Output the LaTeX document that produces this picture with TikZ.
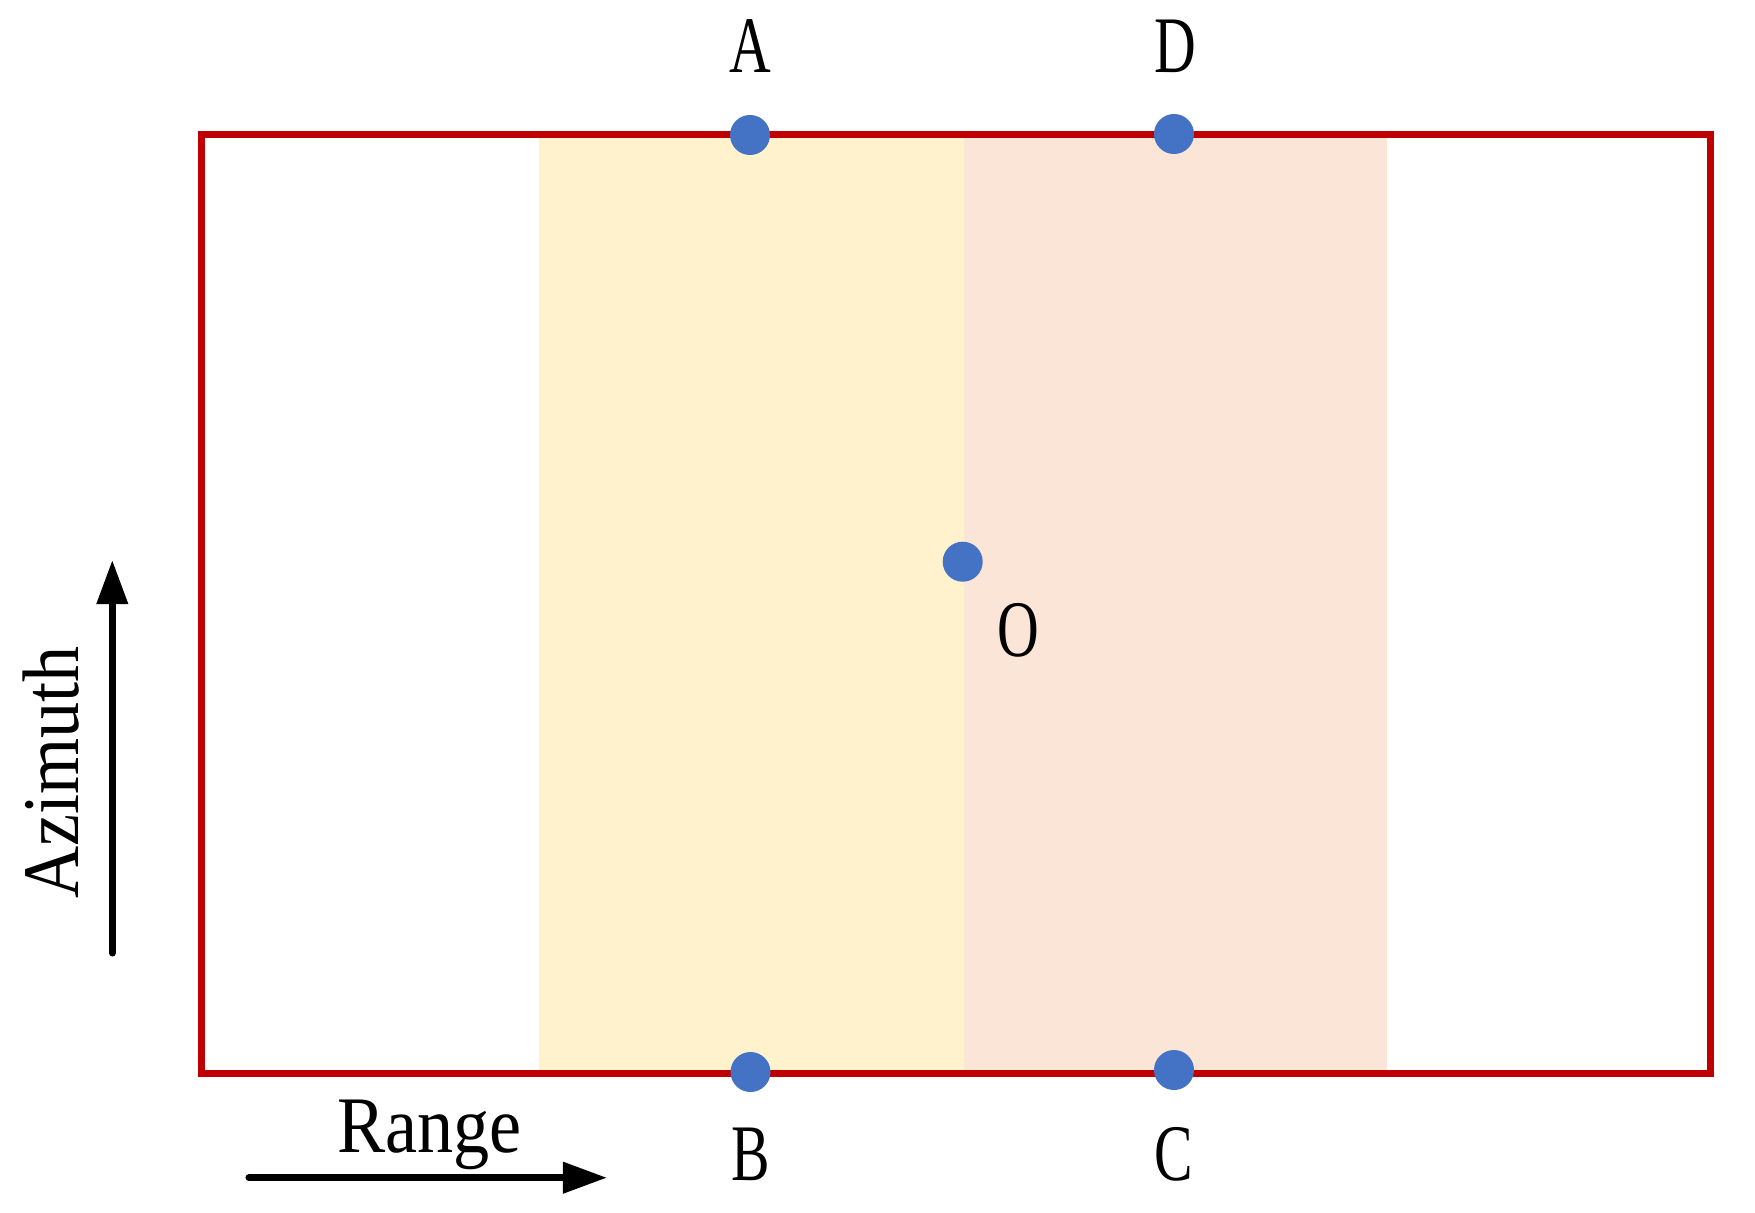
\documentclass[tikz,border=0pt]{standalone}
\usepackage{fontspec}
\setmainfont{Liberation Serif}
\newfontfamily\condL[FakeStretch=0.72]{Liberation Serif}
\newfontfamily\condW[FakeStretch=0.9]{Liberation Serif}
\usetikzlibrary{arrows.meta}
\definecolor{borderred}{HTML}{C00000}
\definecolor{dotblue}{HTML}{4472C4}
\definecolor{bandyellow}{HTML}{FFF2CC}
\definecolor{bandorange}{HTML}{FBE5D6}
\tikzset{
  pt/.style={circle,fill=dotblue,inner sep=0pt,minimum size=0.4cm},
  lbl/.style={font=\condL\fontsize{22.8}{26}\selectfont,anchor=base,inner sep=0pt},
  wlbl/.style={font=\condW\fontsize{22.8}{26}\selectfont,anchor=base,inner sep=0pt},
  axarrow/.style={line width=2pt,line cap=round,-{Triangle[length=0.44cm,width=0.3cm]}},
  frame/.style={draw=borderred,line width=2pt}
}
\begin{document}
\begin{tikzpicture}[x=0.01cm,y=-0.01cm]
\useasboundingbox (0,0) rectangle (1755,1212);
% bands
\fill[bandyellow] (539,134) rectangle (964,1073);
\fill[bandorange] (964,134) rectangle (1387,1073);
% frame
\draw[frame] (201.5,134.5) rectangle (1710.5,1073);
% points
\node[pt] (pA) at (750,135) {};
\node[pt] (pD) at (1174,134) {};
\node[pt] (pB) at (750.5,1072) {};
\node[pt] (pC) at (1174,1070) {};
\node[pt] (pO) at (962.7,561.7) {};
% labels
\node[lbl] (lA) at (750,72.7) {A};
\node[lbl] (lD) at (1175,72.7) {D};
\node[lbl] (lB) at (750.7,1180.7) {B};
\node[lbl] (lC) at (1174,1180.7) {C};
\node[lbl] (lO) at (1018,656.7) {O};
\node[wlbl] (lRange) at (429.5,1152.7) {Range};
\node[wlbl,rotate=90] (lAz) at (78,772.3) {Azimuth};
% axis arrows
\coordinate (r0) at (249,1177.7);
\coordinate (r1) at (607,1177.7);
\coordinate (a0) at (112.3,953);
\coordinate (a1) at (112.3,560);
\draw[axarrow] (r0) -- (r1);
\draw[axarrow] (a0) -- (a1);
\end{tikzpicture}
\end{document}
